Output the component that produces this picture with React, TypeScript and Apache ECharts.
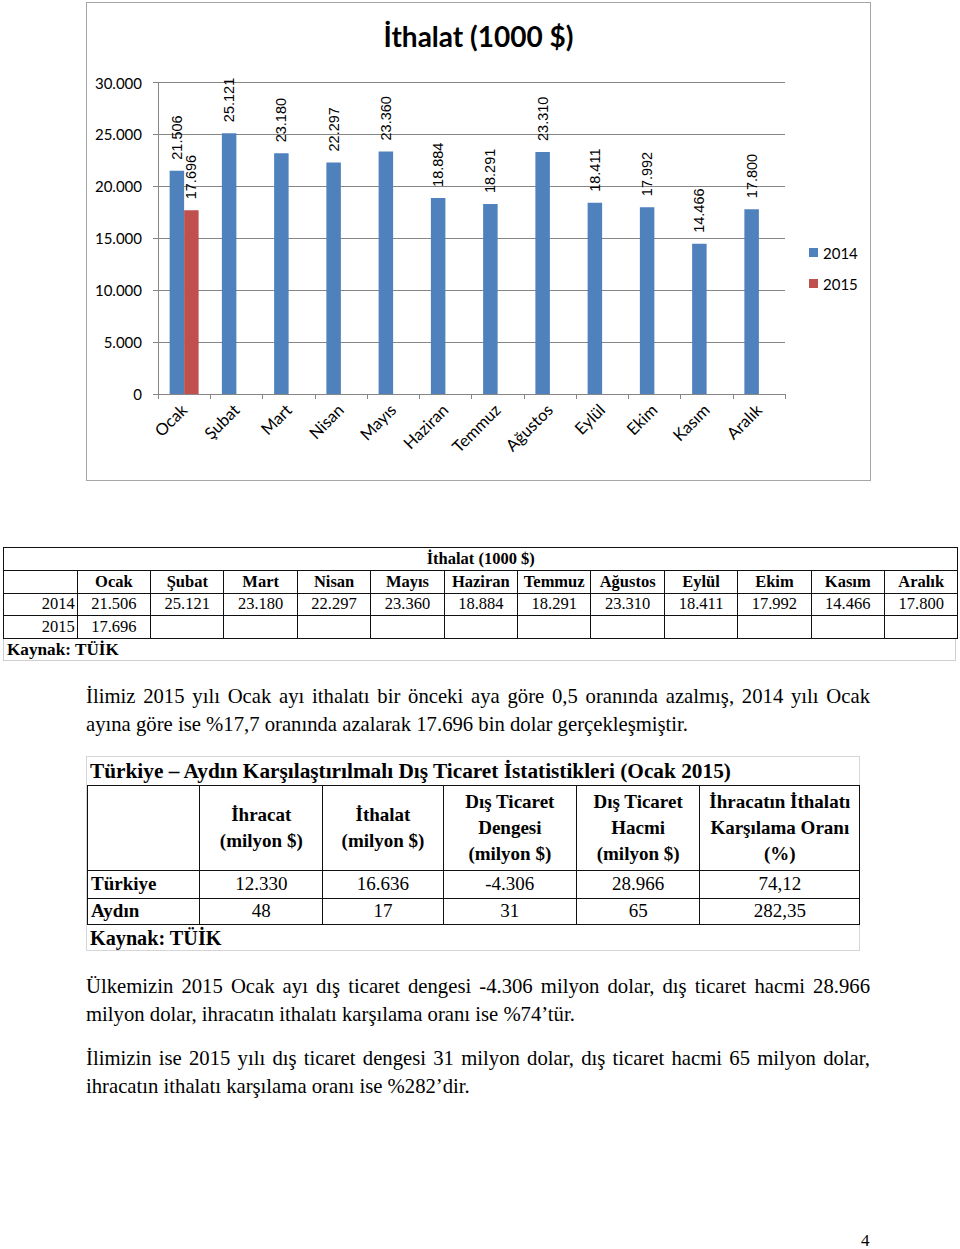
import React, { useEffect, useRef } from "react";
import * as echarts from "echarts";

const months = ["Ocak", "Şubat", "Mart", "Nisan", "Mayıs", "Haziran", "Temmuz", "Ağustos", "Eylül", "Ekim", "Kasım", "Aralık"];
const imports2014 = [21506, 25121, 23180, 22297, 23360, 18884, 18291, 23310, 18411, 17992, 14466, 17800];
const imports2015: (number | null)[] = [17696, null, null, null, null, null, null, null, null, null, null, null];
const seriesNames = ["2014", "2015"];
const chartTitle = "İthalat (1000 $)";

const compareTitle = "Türkiye – Aydın Karşılaştırılmalı Dış Ticaret İstatistikleri (Ocak 2015)";
const compareHeaders = [
  ["İhracat", "(milyon $)"],
  ["İthalat", "(milyon $)"],
  ["Dış Ticaret", "Dengesi", "(milyon $)"],
  ["Dış Ticaret", "Hacmi", "(milyon $)"],
  ["İhracatın İthalatı", "Karşılama Oranı", "(%)"],
];
const compareRows = ["Türkiye", "Aydın"];
const turkiyeValues = ["12.330", "16.636", "-4.306", "28.966", "74,12"];
const aydinValues = ["48", "17", "31", "65", "282,35"];
const source = "Kaynak: TÜİK";

const para1 = [
  "İlimiz 2015 yılı Ocak ayı ithalatı bir önceki aya göre 0,5 oranında azalmış, 2014 yılı Ocak",
  "ayına göre ise %17,7 oranında azalarak 17.696 bin dolar gerçekleşmiştir.",
];
const para2 = [
  "Ülkemizin 2015 Ocak ayı dış ticaret dengesi -4.306 milyon dolar, dış ticaret hacmi 28.966",
  "milyon dolar, ihracatın ithalatı karşılama oranı ise %74’tür.",
];
const para3 = [
  "İlimizin ise 2015 yılı dış ticaret dengesi 31 milyon dolar, dış ticaret hacmi 65 milyon dolar,",
  "ihracatın ithalatı karşılama oranı ise %282’dir.",
];

const fmt = (n: number) => String(n).replace(/\B(?=(\d{3})+(?!\d))/g, ".");

const SERIF = "'Liberation Serif', 'Times New Roman', serif";
const SANS = "Lato, 'Open Sans', sans-serif";

function Chart() {
  const ref = useRef<HTMLDivElement>(null);
  useEffect(() => {
    const chart = echarts.init(ref.current!, null, { renderer: "svg" });
    const label = {
      show: true,
      position: "top",
      rotate: 90,
      align: "left",
      verticalAlign: "middle",
      distance: 11,
      fontFamily: "'Liberation Sans', Arial, sans-serif",
      fontSize: 14.5,
      color: "#000",
      formatter: (p: any) => fmt(p.value),
    };
    chart.setOption({
      animation: false,
      title: {
        text: chartTitle,
        left: "center",
        top: 14,
        textStyle: { fontFamily: SANS, fontSize: 28, fontWeight: "bold", color: "#000" },
      },
      legend: {
        data: seriesNames,
        orient: "vertical",
        left: 717,
        top: 237,
        itemWidth: 9,
        itemHeight: 9,
        itemGap: 16,
        icon: "rect",
        textStyle: { fontFamily: SANS, fontSize: 15, color: "#000" },
      },
      grid: { left: 71, top: 79.5, width: 627, height: 311.5 },
      xAxis: {
        type: "category",
        data: months,
        axisLine: { lineStyle: { color: "#868686" } },
        axisTick: { show: true, length: 5, lineStyle: { color: "#868686" } },
        axisLabel: { rotate: 45, margin: 13, fontFamily: SANS, fontSize: 16.5, color: "#000" },
      },
      yAxis: {
        type: "value",
        min: 0,
        max: 30000,
        interval: 5000,
        axisLine: { show: true, lineStyle: { color: "#868686" } },
        axisTick: { show: true, length: 5, lineStyle: { color: "#868686" } },
        splitLine: { lineStyle: { color: "#868686" } },
        axisLabel: { margin: 16, fontFamily: SANS, fontSize: 15, color: "#000", formatter: (v: number) => fmt(v) },
      },
      series: [
        { name: seriesNames[0], type: "bar", data: imports2014, barWidth: 14.5, barGap: "0%", itemStyle: { color: "#4F81BD" }, label },
        { name: seriesNames[1], type: "bar", data: imports2015, barWidth: 14.5, barGap: "0%", itemStyle: { color: "#C0504D" }, label },
      ],
    });
    return () => chart.dispose();
  }, []);
  return (
    <div
      style={{ position: "absolute", left: 86, top: 2, width: 783, height: 477, border: "1px solid #a6a6a6", background: "#fff" }}
    >
      <div ref={ref} style={{ width: 783, height: 477 }} />
    </div>
  );
}

function MonthlyTable() {
  const firstW = 73.7;
  const colW = 73.4;
  const bd = "1.5px solid #111";
  const cell = (w: number, extra: any = {}) => ({
    width: w,
    border: bd,
    padding: 0,
    fontFamily: SERIF,
    fontSize: 16.5,
    textAlign: "center" as const,
    overflow: "hidden",
    whiteSpace: "nowrap" as const,
    ...extra,
  });
  return (
    <div style={{ position: "absolute", left: 3, top: 547, width: 955 }}>
      <table style={{ borderCollapse: "collapse", tableLayout: "fixed", width: 955 }}>
        <colgroup>
          <col style={{ width: firstW }} />
          {months.map((m) => (
            <col key={m} style={{ width: colW }} />
          ))}
        </colgroup>
        <tbody>
          <tr style={{ height: 22.5 }}>
            <td colSpan={13} style={cell(955, { fontWeight: "bold" })}>
              {chartTitle}
            </td>
          </tr>
          <tr style={{ height: 23 }}>
            <td style={cell(firstW)}></td>
            {months.map((m) => (
              <td key={m} style={cell(colW, { fontWeight: "bold" })}>
                {m}
              </td>
            ))}
          </tr>
          <tr style={{ height: 22.5 }}>
            <td style={cell(firstW, { textAlign: "right", paddingRight: 2 })}>{seriesNames[0]}</td>
            {imports2014.map((v, i) => (
              <td key={i} style={cell(colW)}>
                {fmt(v)}
              </td>
            ))}
          </tr>
          <tr style={{ height: 23 }}>
            <td style={cell(firstW, { textAlign: "right", paddingRight: 2 })}>{seriesNames[1]}</td>
            {imports2015.map((v, i) => (
              <td key={i} style={cell(colW)}>
                {v == null ? "" : fmt(v)}
              </td>
            ))}
          </tr>
        </tbody>
      </table>
      <div
        style={{
          width: 953,
          height: 22,
          borderLeft: "1px solid #cfcfcf",
          borderRight: "1px solid #cfcfcf",
          borderBottom: "1px solid #cfcfcf",
          fontFamily: SERIF,
          fontWeight: "bold",
          fontSize: 17.2,
          lineHeight: "22px",
          paddingLeft: 3,
          boxSizing: "border-box",
        }}
      >
        {source}
      </div>
    </div>
  );
}

function CompareTable() {
  const widths = [112.3, 123, 120.4, 133.3, 123.3, 160];
  const bd = "1.5px solid #111";
  const base = {
    border: bd,
    padding: 0,
    fontFamily: SERIF,
    fontSize: 19,
    textAlign: "center" as const,
    whiteSpace: "nowrap" as const,
    overflow: "hidden",
  };
  return (
    <div
      style={{
        position: "absolute",
        left: 86,
        top: 756,
        width: 774,
        height: 195,
        border: "1px solid #d6d6d6",
        boxSizing: "border-box",
      }}
    >
      <div style={{ height: 28, fontFamily: SERIF, fontWeight: "bold", fontSize: 21.3, lineHeight: "29px", paddingLeft: 3, whiteSpace: "nowrap" }}>
        {compareTitle}
      </div>
      <table style={{ borderCollapse: "collapse", tableLayout: "fixed", width: 773, marginLeft: 0 }}>
        <colgroup>
          {widths.map((w, i) => (
            <col key={i} style={{ width: w }} />
          ))}
        </colgroup>
        <tbody>
          <tr style={{ height: 84.5 }}>
            <td style={base}></td>
            {compareHeaders.map((h, i) => (
              <td key={i} style={{ ...base, fontWeight: "bold", lineHeight: "26px" }}>
                {h.map((line, j) => (
                  <div key={j}>{line}</div>
                ))}
              </td>
            ))}
          </tr>
          {[turkiyeValues, aydinValues].map((vals, r) => (
            <tr key={r} style={{ height: r === 0 ? 28 : 26.5 }}>
              <td style={{ ...base, fontWeight: "bold", textAlign: "left", paddingLeft: 3 }}>{compareRows[r]}</td>
              {vals.map((v, i) => (
                <td key={i} style={base}>
                  {v}
                </td>
              ))}
            </tr>
          ))}
        </tbody>
      </table>
      <div style={{ height: 26, fontFamily: SERIF, fontWeight: "bold", fontSize: 20.2, lineHeight: "27px", paddingLeft: 3 }}>
        {source}
      </div>
    </div>
  );
}

function Para({ top, lines }: { top: number; lines: string[] }) {
  return (
    <div
      style={{
        position: "absolute",
        left: 86,
        top,
        width: 784,
        fontFamily: SERIF,
        fontSize: 20.7,
        lineHeight: "28px",
        color: "#000",
        whiteSpace: "nowrap",
      }}
    >
      <div style={{ textAlign: "justify", textAlignLast: "justify" as any }}>{lines[0]}</div>
      <div>{lines[1]}</div>
    </div>
  );
}

export default function App() {
  return (
    <div style={{ position: "absolute", left: 0, top: 0, width: 960, height: 1249, background: "#fff", overflow: "hidden" }}>
      <Chart />
      <MonthlyTable />
      <Para top={682} lines={para1} />
      <CompareTable />
      <Para top={972} lines={para2} />
      <Para top={1044} lines={para3} />
      <div style={{ position: "absolute", left: 861, top: 1231, fontFamily: SERIF, fontSize: 17 }}>4</div>
    </div>
  );
}
